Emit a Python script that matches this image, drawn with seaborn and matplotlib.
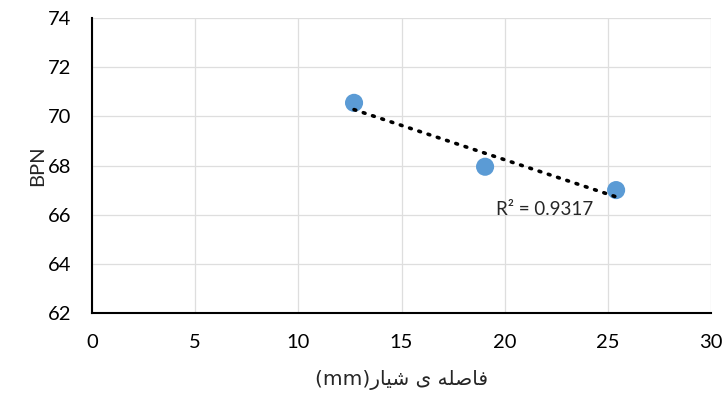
import numpy as np
import pandas as pd
import seaborn as sns
import matplotlib.pyplot as plt

# groove spacing (mm) vs BPN
groove_spacing = [12.7, 19.05, 25.4]
bpn = [70.55, 67.95, 67.0]
r2_label = "R\u00b2 = 0.9317"

df = pd.DataFrame({'spacing': groove_spacing, 'bpn': bpn})

sns.set_style('white')
plt.rcParams['font.family'] = ['Lato', 'DejaVu Sans']

fig = plt.figure(figsize=(7.22, 4.01), dpi=100)
ax = fig.add_axes([0.1274, 0.2195, 0.8574, 0.7355])

ax.grid(True, color='#dedede', linewidth=0.9, zorder=0)

# linear trendline (dotted, like excel)
sns.regplot(x='spacing', y='bpn', data=df, ci=None, scatter=False, ax=ax,
            line_kws={'color': 'black', 'linestyle': (0, (0.5, 2.2)), 'linewidth': 2.6,
                      'dash_capstyle': 'round', 'zorder': 4})
sns.scatterplot(x='spacing', y='bpn', data=df, ax=ax, color='#5b9bd5', s=170,
                edgecolor='none', zorder=3)

ax.set_xlim(0, 30)
ax.set_ylim(62, 74)
ax.set_xticks(np.arange(0, 31, 5))
ax.set_yticks(np.arange(62, 75, 2))
ax.tick_params(axis='both', length=0, labelsize=14.5, colors='black')
ax.tick_params(axis='x', pad=15)
ax.tick_params(axis='y', pad=15)

for s in ['top', 'right']:
    ax.spines[s].set_visible(False)
for s in ['left', 'bottom']:
    ax.spines[s].set_color('black')
    ax.spines[s].set_linewidth(1.5)

ax.text(19.6, 66.2, r2_label, fontsize=13.5, ha='left', va='center')

ax.set_ylabel('BPN', fontsize=14.5, labelpad=1)
# persian label, pre-shaped in visual order: "فاصله ی شیار(mm)"
xlab = ("(mm)" + "\ufead\ufe8e\ufef4\ufeb7" + " " + "\ufeef" + " "
        + "\ufeea\ufee0\ufebb\ufe8e\ufed3")
ax.set_xlabel(xlab, fontsize=14.5, family=['DejaVu Sans'], labelpad=14)

fig.savefig('out.png', dpi=100)
